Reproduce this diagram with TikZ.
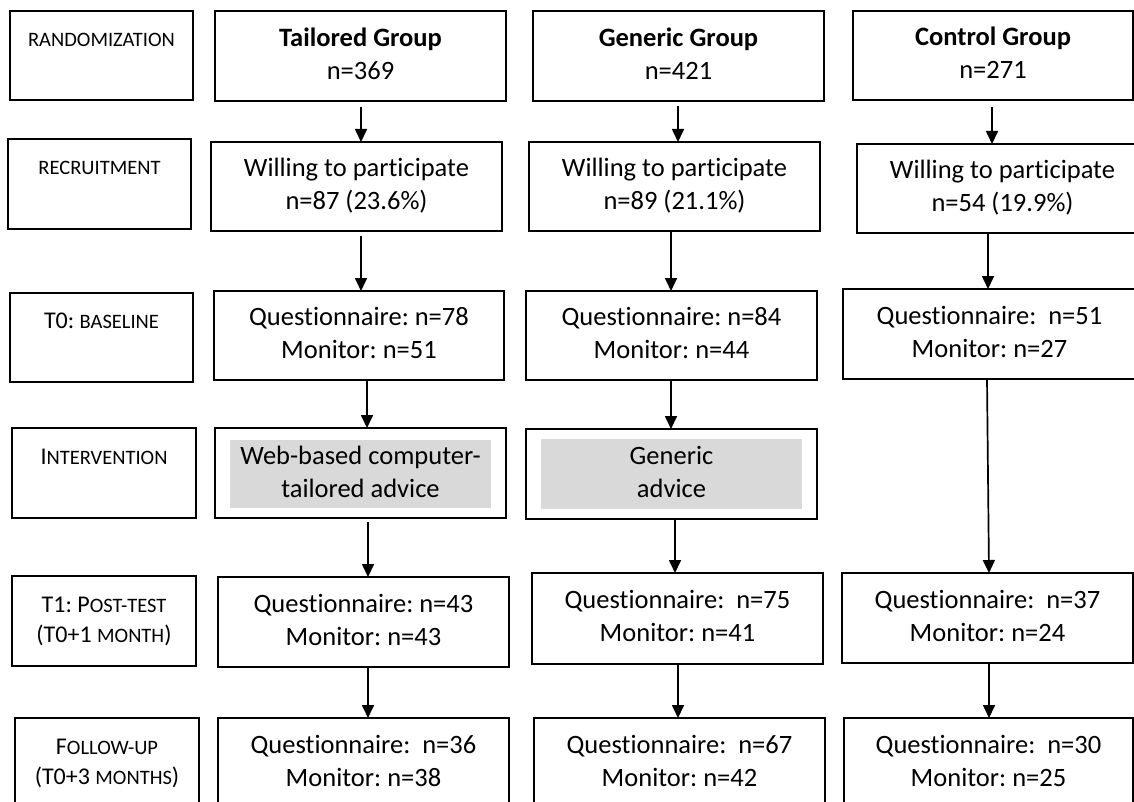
\documentclass[tikz,border=0pt]{standalone}
\usepackage{fontspec}
\setmainfont{Carlito}[Ligatures=NoCommon]
\usetikzlibrary{arrows.meta}
\definecolor{greyfill}{HTML}{D9D9D9}
\newcommand\smcp[1]{{\fontsize{20.5}{30}\selectfont #1}}
\frenchspacing
\begin{document}
\begin{tikzpicture}[x=1pt,y=-1pt,
  box/.style={draw=black, line width=1.3pt, inner sep=0pt, outer sep=0pt, align=center, anchor=north west, font=\fontsize{26.5}{33}\selectfont},
  lab/.style={box, font=\fontsize{24}{30}\selectfont},
  greybox/.style={fill=greyfill, inner sep=0pt, outer sep=0pt, align=center, anchor=north west, font=\fontsize{26.5}{33}\selectfont},
  arr/.style={line width=1.7pt, -{Triangle[length=13pt,width=12pt]}}]
\useasboundingbox (0,0) rectangle (1134,802);
% stage labels
\node[lab, minimum width=183pt, minimum height=89pt] (L1) at (10,11) {\strut\smcp{RANDOMIZATION}\\\strut};
\node[lab, minimum width=183pt, minimum height=90pt] (L2) at (8,139) {\strut\smcp{RECRUITMENT}\\\strut};
\node[lab, minimum width=183pt, minimum height=89pt] (L3) at (10,293) {\strut T0: \smcp{BASELINE}\\\strut};
\node[lab, minimum width=184pt, minimum height=90pt] (L4) at (12,428) {\strut I\smcp{NTERVENTION}\\\strut};
\node[lab, minimum width=184pt, minimum height=90pt] (L5) at (12,576) {\strut T1: P\smcp{OST-TEST}\\\strut(T0+1 \smcp{MONTH})};
\node[lab, minimum width=184pt, minimum height=90pt] (L6) at (15,718) {\strut F\smcp{OLLOW-UP}\\\strut(T0+3 \smcp{MONTHS})};
% tailored
\node[box, minimum width=291pt, minimum height=90pt] (T1) at (215,11) {\strut\textbf{Tailored Group}\\\strut n=369};
\node[box, minimum width=291pt, minimum height=89pt] (T2) at (211,142) {\strut Willing to participate\\\strut n=87 (23.6\%)};
\node[box, minimum width=290pt, minimum height=89pt] (T3) at (214,291) {\strut Questionnaire: n=78\\\strut Monitor: n=51};
\node[box, minimum width=291pt, minimum height=90pt] (T4) at (215,428) {};
\node[greybox, minimum width=261pt, minimum height=68pt] (T4g) at (230,440) {\strut Web-based computer-\\\strut tailored advice};
\node[box, minimum width=291pt, minimum height=90pt] (T5) at (218,577) {\strut Questionnaire: n=43\\\strut Monitor: n=43};
\node[box, minimum width=291pt, minimum height=90pt] (T6) at (218,718) {\strut Questionnaire: \ n=36\\\strut Monitor: n=38};
% generic
\node[box, minimum width=291pt, minimum height=90pt] (G1) at (533,11) {\strut\textbf{Generic Group}\\\strut n=421};
\node[box, minimum width=291pt, minimum height=89pt] (G2) at (529,142) {\strut Willing to participate\\\strut n=89 (21.1\%)};
\node[box, minimum width=291pt, minimum height=89pt] (G3) at (526,291) {\strut Questionnaire: n=84\\\strut Monitor: n=44};
\node[box, minimum width=291pt, minimum height=90pt] (G4) at (526,429) {};
\node[greybox, minimum width=261pt, minimum height=70pt] (G4g) at (541,439) {\strut Generic\\\strut advice};
\node[box, minimum width=291pt, minimum height=91pt] (G5) at (532,573) {\strut Questionnaire: \ n=75\\\strut Monitor: n=41};
\node[box, minimum width=291pt, minimum height=90pt] (G6) at (534,718) {\strut Questionnaire: \ n=67\\\strut Monitor: n=42};
% control
\node[box, minimum width=280pt, minimum height=89pt] (C1) at (853,11) {\strut\textbf{Control Group}\\\strut n=271};
\node[box, minimum width=291pt, minimum height=89pt] (C2) at (857,144) {\strut Willing to participate\\\strut n=54 (19.9\%)};
\node[box, minimum width=293pt, minimum height=90pt] (C3) at (843,289) {\strut Questionnaire: \ n=51\\\strut Monitor: n=27};
\node[box, minimum width=291pt, minimum height=90pt] (C5) at (842,573) {\strut Questionnaire: \ n=37\\\strut Monitor: n=24};
\node[box, minimum width=289pt, minimum height=90pt] (C6) at (844,718) {\strut Questionnaire: \ n=30\\\strut Monitor: n=25};
% arrow columns
\coordinate (ta) at (361,0);
\coordinate (tb) at (367,0);
\coordinate (tc) at (368,0);
\coordinate (ga) at (678,0);
\coordinate (gb) at (671,0);
\coordinate (gc) at (675,0);
\coordinate (ca) at (992,0);
\coordinate (cb) at (988,0);
\coordinate (cc) at (987,0);
\coordinate (cd) at (989,0);
% arrows
\draw[arr, shorten <=6pt] (T1.south -| ta) -- (T2.north -| ta);
\draw[arr, shorten <=5pt] (T2.south -| ta) -- (T3.north -| ta);
\draw[arr] (T3.south -| tb) -- (T4.north -| tb);
\draw[arr, shorten <=4pt] (T4.south -| tc) -- (T5.north -| tc);
\draw[arr] (T5.south -| tc) -- (T6.north -| tc);
\draw[arr, shorten <=5pt] (G1.south -| ga) -- (G2.north -| ga);
\draw[arr] (G2.south -| gb) -- (G3.north -| gb);
\draw[arr] (G3.south -| gb) -- (G4.north -| gb);
\draw[arr] (G4.south -| gc) -- (G5.north -| gc);
\draw[arr] (G5.south -| ga) -- (G6.north -| ga);
\draw[arr, shorten <=7pt] (C1.south -| ca) -- (C2.north -| ca);
\draw[arr] (C2.south -| cb) -- (C3.north -| cb);
\draw[arr] (C3.south -| cc) -- (C5.north -| cd);
\draw[arr] (C5.south -| cd) -- (C6.north -| cd);
\end{tikzpicture}
\end{document}
